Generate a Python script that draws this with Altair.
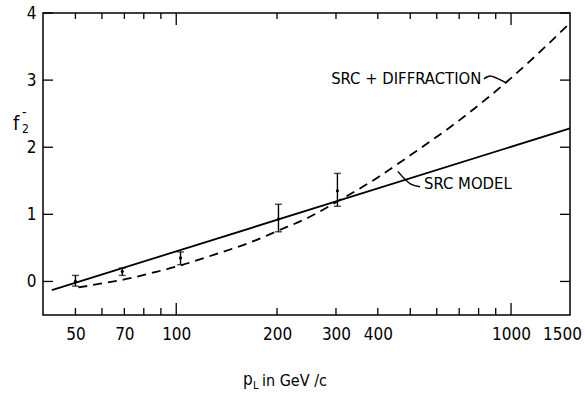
import altair as alt
import pandas as pd

# ---------------- data ----------------
# SRC model (solid line)
src_p = [42.5, 1500]
src_f = [-0.13, 2.28]

# SRC + diffraction (dashed curve)
diff_p = [51, 60, 70, 85, 100, 130, 170, 200, 250, 300, 400, 500, 700, 1000, 1500]
diff_f = [-0.09, -0.03, 0.03, 0.13, 0.22, 0.40, 0.60, 0.75, 0.96, 1.18, 1.55, 1.88, 2.40, 3.03, 3.85]

# measured points with error bars
data_p = [50, 69, 103, 202, 303]
data_f = [0.0, 0.15, 0.35, 0.93, 1.35]
data_lo = [-0.07, 0.09, 0.25, 0.74, 1.12]
data_hi = [0.09, 0.20, 0.44, 1.15, 1.61]

# axes
x_labels = [50, 70, 100, 200, 300, 400, 1000, 1500]
x_minor = [50, 60, 70, 80, 90, 200, 300, 400, 500, 600, 700, 800, 900]
x_major = [100, 1000]
y_labels = [0, 1, 2, 3, 4]

# annotations (data coordinates)
lab1_text = ["SRC + DIFFRACTION"]
lab1_p = [815]
lab1_f = [3.01]
lead1_p = [830, 865, 905, 965]
lead1_f = [3.02, 3.06, 3.03, 2.96]

lab2_text = ["SRC MODEL"]
lab2_p = [550]
lab2_f = [1.45]
lead2_p = [459, 502, 535]
lead2_f = [1.64, 1.45, 1.41]

FONT = "DejaVu Sans Condensed, DejaVu Sans"
W, H = 527, 302

xs = alt.Scale(type="log", domain=[40, 1500], nice=False)
ys = alt.Scale(domain=[-0.5, 4], nice=False, zero=False)

src_df = pd.DataFrame({"p": src_p, "f": src_f})
diff_df = pd.DataFrame({"p": diff_p, "f": diff_f})
pts_df = pd.DataFrame({"p": data_p, "f": data_f, "lo": data_lo, "hi": data_hi})

x_axis = alt.Axis(values=x_labels, format="d", ticks=False, grid=False, domain=False,
                  labelFont=FONT, labelFontSize=17, labelColor="black", labelPadding=11,
                  labelFlush=False, labelOverlap=False, title=None,
                  labelOffset={"condition": {"test": "datum.value == 1500", "value": -8},
                               "value": 0})
y_axis = alt.Axis(values=y_labels, format="d", ticks=False, grid=False, domain=False,
                  labelFont=FONT, labelFontSize=17, labelColor="black", labelPadding=7,
                  title=None)


def X(field="p"):
    return alt.X(f"{field}:Q", scale=xs, axis=x_axis)


def Y(field="f"):
    return alt.Y(f"{field}:Q", scale=ys, axis=y_axis)


solid = alt.Chart(src_df).mark_line(color="black", strokeWidth=1.8).encode(x=X(), y=Y())

dashed = alt.Chart(diff_df).mark_line(color="black", strokeWidth=1.8, strokeDash=[9, 6],
                                      interpolate="monotone").encode(x=X(), y=Y())

bars = alt.Chart(pts_df).mark_rule(color="black", strokeWidth=1.4).encode(
    x=X(), y=Y("lo"), y2="hi:Q")
cap_lo = alt.Chart(pts_df).mark_tick(color="black", orient="horizontal", size=7,
                                     thickness=1.4).encode(x=X(), y=Y("lo"))
cap_hi = alt.Chart(pts_df).mark_tick(color="black", orient="horizontal", size=7,
                                     thickness=1.4).encode(x=X(), y=Y("hi"))
dots = alt.Chart(pts_df).mark_point(color="black", filled=True, size=10, opacity=1).encode(
    x=X(), y=Y())

# inward ticks
minor_df = pd.DataFrame({"p": x_minor})
major_df = pd.DataFrame({"p": x_major})
ytick_df = pd.DataFrame({"f": y_labels})


def xticks(df, y0, y1):
    return alt.Chart(df).mark_rule(color="black", strokeWidth=1.3).encode(
        x=X(), y=alt.value(y0), y2=alt.value(y1))


def yticks(x0, x1):
    return alt.Chart(ytick_df).mark_rule(color="black", strokeWidth=1.3).encode(
        y=Y(), x=alt.value(x0), x2=alt.value(x1))


tick_layers = [
    xticks(minor_df, H, H - 7), xticks(minor_df, 0, 6),
    xticks(major_df, H, H - 12), xticks(major_df, 0, 12),
    yticks(0, 10), yticks(W, W - 10),
]

# annotations
lab1 = alt.Chart(pd.DataFrame({"p": lab1_p, "f": lab1_f, "t": lab1_text})).mark_text(
    font=FONT, fontSize=16.5, align="right", baseline="middle", color="black").encode(
    x=X(), y=Y(), text="t:N")
lead1 = alt.Chart(pd.DataFrame({"p": lead1_p, "f": lead1_f})).mark_line(
    color="black", strokeWidth=1.5, interpolate="monotone").encode(x=X(), y=Y())
lab2 = alt.Chart(pd.DataFrame({"p": lab2_p, "f": lab2_f, "t": lab2_text})).mark_text(
    font=FONT, fontSize=16.5, align="left", baseline="middle", color="black").encode(
    x=X(), y=Y(), text="t:N")
lead2 = alt.Chart(pd.DataFrame({"p": lead2_p, "f": lead2_f})).mark_line(
    color="black", strokeWidth=1.5, interpolate="monotone").encode(x=X(), y=Y())


def label(txt, x, y, size, align="left"):
    return alt.Chart(pd.DataFrame({"t": [txt]})).mark_text(
        font=FONT, fontSize=size, align=align, baseline="alphabetic", color="black").encode(
        text="t:N", x=alt.value(x), y=alt.value(y))


titles = [
    label("p", 200, 372, 17),
    label("L", 210, 376, 11),
    label("in GeV /c", 219, 373, 16),
    label("f", -30, 117, 20),
    label("2", -21, 120, 12),
    label("-", -21, 104, 14),
]

chart = alt.layer(
    solid, dashed, bars, cap_lo, cap_hi, dots, *tick_layers, lab1, lead1, lab2, lead2, *titles
).properties(
    width=W, height=H,
    autosize=alt.AutoSizeParams(type="none"),
    padding={"left": 43, "top": 13, "right": 15, "bottom": 81},
    background="white",
).configure_view(stroke="black", strokeWidth=1.5)

chart.save("out.html", embed_options={"renderer": "svg", "actions": False})
